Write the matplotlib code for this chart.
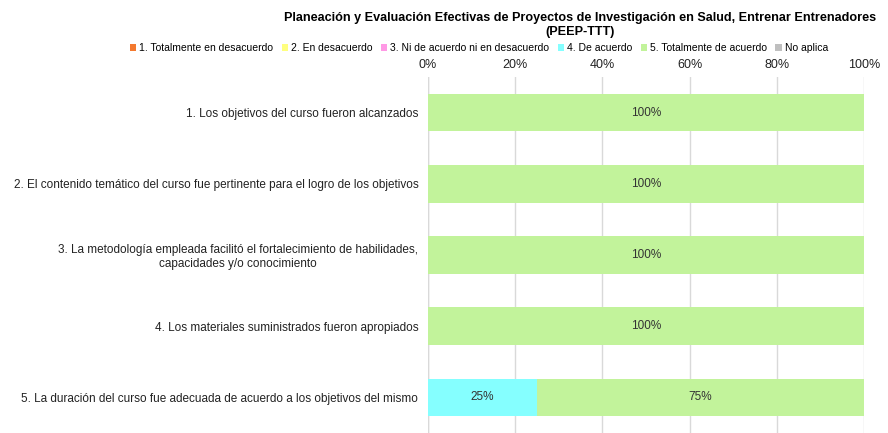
import matplotlib
matplotlib.use("Agg")
import matplotlib.pyplot as plt
from matplotlib.patches import Patch
import numpy as np

plt.rcParams['font.family'] = ['Liberation Sans', 'DejaVu Sans']

questions = [
    "1. Los objetivos del curso fueron alcanzados",
    "2. El contenido temático del curso fue pertinente para el logro de los objetivos",
    "3. La metodología empleada facilitó el fortalecimiento de habilidades,\ncapacidades y/o conocimiento",
    "4. Los materiales suministrados fueron apropiados",
    "5. La duración del curso fue adecuada de acuerdo a los objetivos del mismo",
]
series_names = ["1. Totalmente en desacuerdo", "2. En desacuerdo",
                "3. Ni de acuerdo ni en desacuerdo", "4. De acuerdo",
                "5. Totalmente de acuerdo", "No aplica"]
s1 = [0, 0, 0, 0, 0]
s2 = [0, 0, 0, 0, 0]
s3 = [0, 0, 0, 0, 0]
s4 = [0, 0, 0, 0, 25]
s5 = [100, 100, 100, 100, 75]
s6 = [0, 0, 0, 0, 0]
colors = ["#F4792F", "#FFFF7F", "#FF99E5", "#85FFFF", "#C2F39B", "#BFBFBF"]
xticks = [0, 20, 40, 60, 80, 100]
xticklabels = ["0%", "20%", "40%", "60%", "80%", "100%"]
title = "Planeación y Evaluación Efectivas de Proyectos de Investigación en Salud, Entrenar Entrenadores\n(PEEP-TTT)"

fig = plt.figure(figsize=(8.88, 4.33), dpi=100)
ax = fig.add_axes([428/888, 0.0, (864-428)/888, 1 - 77/433])

y = np.arange(len(questions))
left = np.zeros(len(questions))
for vals, c in zip([s1, s2, s3, s4, s5, s6], colors):
    vals = np.array(vals, dtype=float)
    ax.barh(y, vals, left=left, color=c, height=0.53, zorder=3)
    for yi, (v, l) in enumerate(zip(vals, left)):
        if v > 0:
            ax.text(l + v/2, yi, f"{int(v)}%", ha='center', va='center',
                    fontsize=8.5, color='#333333', zorder=4)
    left += vals

ax.set_xlim(0, 100)
ax.set_ylim(len(questions) - 0.5, -0.5)
ax.set_yticks(y)
ax.set_yticklabels(questions, fontsize=8.5, ha='right', multialignment='center',
                   color='#222222')
ax.set_xticks(xticks)
ax.set_xticklabels(xticklabels, fontsize=9, color='#222222')
ax.xaxis.tick_top()
ax.tick_params(axis='y', length=0, pad=7)
ax.tick_params(axis='x', length=0, pad=4)
ax.grid(axis='x', color='#D9D9D9', linewidth=1, zorder=0)
for s in ax.spines.values():
    s.set_visible(False)
ax.axvline(0, color='#D9D9D9', linewidth=1, zorder=1)

fig.text(580/888, 1 - 25/433, title, ha='center', va='center',
         fontsize=9.1, fontweight='bold', linespacing=1.3)

handles = [Patch(facecolor=c, edgecolor='none') for c in colors]
fig.legend(handles, series_names, loc='center', bbox_to_anchor=(479/888, 1 - 48/433),
           ncol=6, frameon=False, fontsize=7.5, handlelength=0.6, handleheight=0.6,
           handletextpad=0.3, columnspacing=0.8, borderaxespad=0)

fig.savefig("out.png", dpi=100)
